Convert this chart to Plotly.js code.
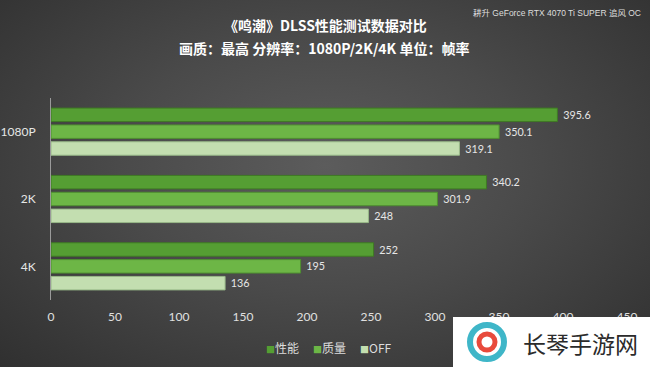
<!DOCTYPE html>
<html><head><meta charset="utf-8">
<script src="https://cdn.plot.ly/plotly-3.0.1.min.js"></script>
<style>
html,body{margin:0;padding:0;width:650px;height:367px;overflow:hidden;}
body{background:radial-gradient(ellipse at 50% 45%, #5c5c5c 0%, #4a4a4a 45%, #303030 100%);}
#chart{width:650px;height:367px;}
</style></head>
<body><div id="chart"></div>
<script>
const categories = ['1080P', '2K', '4K'];
const seriesNames = ['性能', '质量', 'OFF'];
const perfValues = [395.6, 340.2, 252];
const qualityValues = [350.1, 301.9, 195];
const offValues = [319.1, 248, 136];
const xTicks = [0, 50, 100, 150, 200, 250, 300, 350, 400, 450];

const colors = ['#559e33', '#6db646', '#c3deb0'];
const lineColors = ['#3f7a24', '#4f8f30', '#98b888'];
const allValues = [perfValues, qualityValues, offValues];

const traces = allValues.map((vals, i) => ({
  type: 'bar',
  orientation: 'h',
  name: seriesNames[i],
  y: categories,
  x: vals,
  text: vals.map(v => ' ' + String(v)),
  textposition: 'outside',
  cliponaxis: false,
  textfont: {color: '#e6e6e6', size: 12, family: 'Lato, "Noto Sans", sans-serif'},
  marker: {color: colors[i], line: {color: lineColors[i], width: 1}},
  hoverinfo: 'none',
  showlegend: false
}));

const W = 650, H = 367, ML = 51, MR = 23, MT = 98, MB = 67;
const plotW = W - ML - MR, plotH = H - MT - MB;
const px2x = px => (px - ML) / plotW;
const py2y = py => (H - MB - py) / plotH;

const legendLeft = [264, 311, 358];
const legendAnns = seriesNames.map((n, i) => ({
  text: '<span style="color:' + colors[i] + ';font-size:9px">■</span>' + n,
  xref: 'paper', yref: 'paper', x: px2x(legendLeft[i]), y: py2y(347),
  xanchor: 'left', yanchor: 'middle', showarrow: false,
  font: {size: 12, color: '#dddddd', family: '"Noto Sans CJK SC", sans-serif'}
}));

const layout = {
  width: W, height: H,
  paper_bgcolor: 'rgba(0,0,0,0)',
  plot_bgcolor: 'rgba(0,0,0,0)',
  margin: {l: ML, r: MR, t: MT, b: MB, autoexpand: false},
  barmode: 'group',
  bargap: 0.25,
  bargroupgap: 0.2,
  font: {family: 'Lato, "Noto Sans CJK SC", sans-serif', color: '#e6e6e6'},
  xaxis: {
    range: [0, 450], tickvals: xTicks, ticktext: xTicks.map(String),
    showgrid: false, zeroline: false, showline: false, ticks: '',
    tickfont: {size: 12, color: '#e0e0e0'}, automargin: false, ticklabelstandoff: 8
  },
  yaxis: {
    autorange: 'reversed', showgrid: false, zeroline: false,
    showline: true, linecolor: '#9a9a9a', linewidth: 1, ticks: '',
    tickfont: {size: 12, color: '#e6e6e6'}, ticklabelstandoff: 12, automargin: false
  },
  showlegend: false,
  annotations: [
    {text: '《鸣潮》DLSS性能测试数据对比', xref: 'paper', yref: 'paper', x: px2x(325), y: py2y(25), xanchor: 'center', yanchor: 'middle', showarrow: false,
     font: {size: 14, color: '#ffffff', family: '"Noto Sans CJK SC", sans-serif', weight: 'bold'}},
    {text: '画质：最高 分辨率：1080P/2K/4K 单位：帧率', xref: 'paper', yref: 'paper', x: px2x(324), y: py2y(48), xanchor: 'center', yanchor: 'middle', showarrow: false,
     font: {size: 14, color: '#ffffff', family: '"Noto Sans CJK SC", sans-serif', weight: 'bold'}},
    {text: '耕升 GeForce RTX 4070 Ti SUPER 追风 OC', xref: 'paper', yref: 'paper', x: px2x(643), y: py2y(13), xanchor: 'right', yanchor: 'middle', showarrow: false,
     font: {size: 8.5, color: '#dddddd', family: 'Arial, "Liberation Sans", "Noto Sans CJK SC", sans-serif'}},
    ...legendAnns,
    {text: '长琴手游网', xref: 'paper', yref: 'paper', x: px2x(640), y: py2y(343), xanchor: 'right', yanchor: 'middle', showarrow: false,
     font: {size: 23, color: '#2b2b2b', family: '"Noto Sans CJK SC", sans-serif'}}
  ],
  shapes: [
    {type: 'rect', xref: 'paper', yref: 'paper', x0: px2x(453), x1: px2x(652), y0: py2y(317), y1: py2y(369), layer: 'above',
     line: {width: 0}, fillcolor: '#ffffff'},
    {type: 'circle', xref: 'paper', yref: 'paper', x0: px2x(470), x1: px2x(504), y0: py2y(325), y1: py2y(359), layer: 'above',
     line: {width: 6, color: '#3fb6c8'}, fillcolor: 'rgba(0,0,0,0)'},
    {type: 'circle', xref: 'paper', yref: 'paper', x0: px2x(479), x1: px2x(495), y0: py2y(334), y1: py2y(350), layer: 'above',
     line: {width: 5, color: '#e84a3c'}, fillcolor: 'rgba(0,0,0,0)'}
  ]
};

Plotly.newPlot('chart', traces, layout, {staticPlot: true, displayModeBar: false});
</script></body></html>
